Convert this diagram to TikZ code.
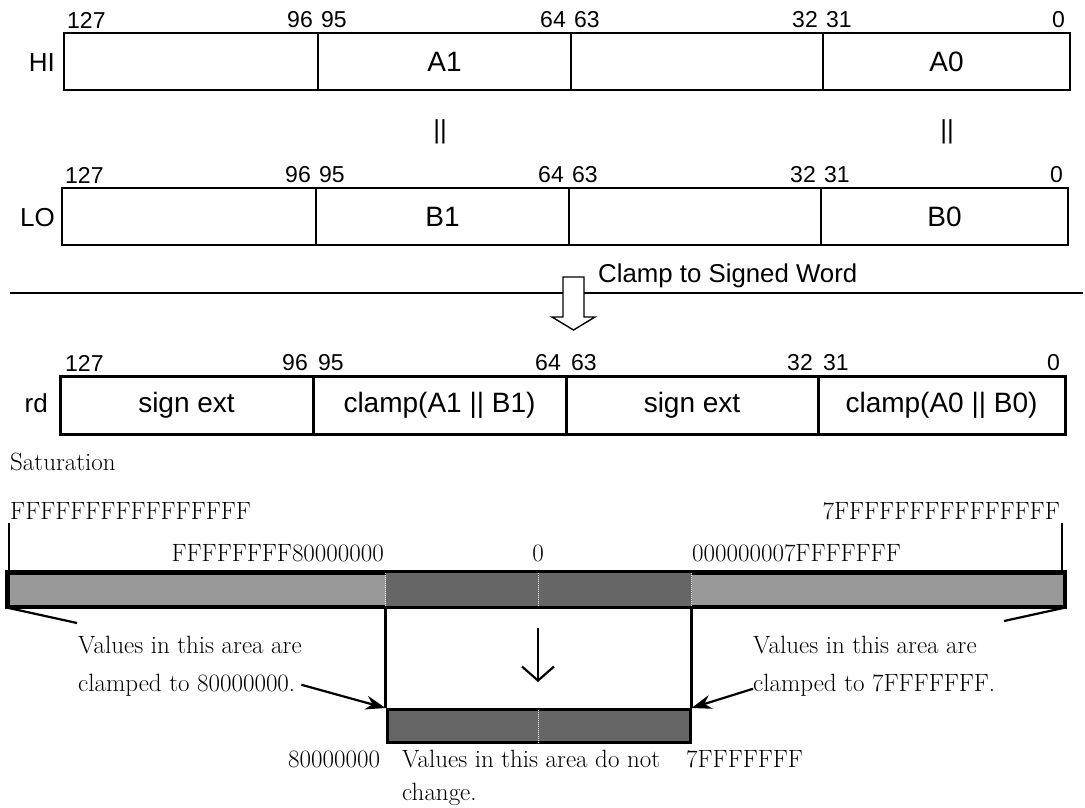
\documentclass[tikz,border=0pt]{standalone}
\usepackage{fontspec}
\newfontfamily\regfont{Liberation Sans}
\usetikzlibrary{arrows.meta}
\definecolor{lightbar}{HTML}{999999}
\definecolor{darkbar}{HTML}{666666}
\tikzset{
  field/.style={draw, line width=1.4pt, minimum height=57pt, inner sep=0pt, font=\regfont\fontsize{28}{32}\selectfont},
  rdfield/.style={field, line width=3pt, minimum height=58pt},
  bitnum/.style={inner sep=0pt, font=\regfont\fontsize{23}{26}\selectfont},
  reglbl/.style={inner sep=0pt, font=\regfont\fontsize{26}{30}\selectfont},
  sertxt/.style={inner sep=0pt, font=\fontsize{25}{29}\selectfont},
  satbar/.style={draw, line width=3pt, minimum height=33pt, inner sep=0pt},
  sepline/.style={white, densely dotted, line width=1pt},
  leader/.style={line width=2.2pt},
}
\begin{document}
\begin{tikzpicture}[x=1pt, y=-1pt, >={Stealth[length=20pt, width=14pt]}]
  \useasboundingbox (0,0) rectangle (1085,807);
  % source register HI
  \node[reglbl, anchor=east] (hilbl) at (55,63) {HI};
  \foreach \xl/\xr/\txt/\nl/\nr [count=\k] in {64/318/{}/127/96, 318/571/A1/95/64, 571/823/{}/63/32, 823/1070/A0/31/0} {
    \node[field, minimum width={(\xr-\xl)*1pt}] (hi\k) at ({(\xl+\xr)/2}, 61.5) {\txt};
    \node[bitnum, anchor=west] (hil\k) at (\xl+3, 20) {\nl};
    \node[bitnum, anchor=east] (hir\k) at (\xr-5, 20) {\nr};
  }
  \node[reglbl] (cat1) at (440,132) {||};
  \node[reglbl] (cat0) at (947,132) {||};
  % source register LO
  \node[reglbl, anchor=east] (lolbl) at (55,218) {LO};
  \foreach \xl/\xr/\txt/\nl/\nr [count=\k] in {62/316/{}/127/96, 316/569/B1/95/64, 569/821/{}/63/32, 821/1068/B0/31/0} {
    \node[field, minimum width={(\xr-\xl)*1pt}] (lo\k) at ({(\xl+\xr)/2}, 216.5) {\txt};
    \node[bitnum, anchor=west] (lol\k) at (\xl+3, 175) {\nl};
    \node[bitnum, anchor=east] (lor\k) at (\xr-5, 175) {\nr};
  }
  % operation
  \draw[line width=1.4pt] (10,293) -- (1083,293);
  \draw[line width=1.4pt, fill=white] (563,277) -- (584,277) -- (584,317) -- (595,317)
    -- (573.5,330) -- (552,317) -- (563,317) -- cycle;
  \node[reglbl, anchor=west, font=\regfont\fontsize{25.8}{29}\selectfont] (oplbl) at (598,276) {Clamp to Signed Word};
  % result register
  \node[reglbl, anchor=east] (rdlbl) at (48,403) {rd};
  \foreach \xl/\xr/\txt/\nl/\nr [count=\k] in {60/313/{sign ext}/127/96, 313/566/{clamp(A1 || B1)}/95/64, 566/818/{sign ext}/63/32, 818/1065/{clamp(A0 || B0)}/31/0} {
    \node[rdfield, minimum width={(\xr-\xl)*1pt}] (rd\k) at ({(\xl+\xr)/2}, 405.5) {\txt};
    \node[bitnum, anchor=west] (rdl\k) at (\xl+5, 363) {\nl};
    \node[bitnum, anchor=east] (rdr\k) at (\xr-5, 363) {\nr};
  }
  % saturation
  \node[sertxt, anchor=base west] (satlbl) at (10,470) {Saturation};
  \node[sertxt, anchor=base west] (minval) at (10,519) {FFFFFFFFFFFFFFFF};
  \node[sertxt, anchor=base east] (maxval) at (1060,519) {7FFFFFFFFFFFFFFF};
  \node[sertxt, anchor=base east] (lowlim) at (384,561) {FFFFFFFF80000000};
  \node[sertxt, anchor=base] (zero) at (538,561) {0};
  \node[sertxt, anchor=base west] (highlim) at (692,561) {000000007FFFFFFF};
  \node[satbar, fill=lightbar, minimum width=1056pt] (fullbar) at (536,589.5) {};
  \node[satbar, fill=darkbar, minimum width=303pt] (lowbar) at (538.5,726) {};
  \fill[darkbar] (lowbar.north west |- fullbar.north) rectangle (lowbar.north east |- fullbar.south);
  \draw[line width=3pt] (fullbar.south west) rectangle (fullbar.north east);
  \foreach \a in {north west, north, north east}
    \draw[sepline] ([yshift=-1.5pt]lowbar.\a |- fullbar.north) -- ([yshift=1.5pt]lowbar.\a |- fullbar.south);
  \draw[sepline] ([yshift=-1.5pt]lowbar.north) -- ([yshift=1.5pt]lowbar.south);
  \coordinate (ltick) at (9,523);
  \coordinate (rtick) at (1062,523);
  \draw[leader] (ltick) -- (ltick |- fullbar.north);
  \draw[leader] (rtick) -- (rtick |- fullbar.north);
  \draw[leader] (lowbar.north west |- fullbar.south) -- (lowbar.north west);
  \draw[leader] (lowbar.north east |- fullbar.south) -- (lowbar.north east);
  \coordinate (dntop) at (538,628);
  \coordinate (dnbot) at (538,682);
  \draw[leader, -{Straight Barb[length=14pt, width=32pt]}] (dntop) -- (dnbot);
  % notes
  \node[sertxt, anchor=base west] (lclamp1) at (78,653) {Values in this area are};
  \node[sertxt, anchor=base west] (lclamp2) at (78,691) {clamped to 80000000.};
  \node[sertxt, anchor=base west] (rclamp1) at (753,653) {Values in this area are};
  \node[sertxt, anchor=base west] (rclamp2) at (753,691) {clamped to 7FFFFFFF.};
  \coordinate (lfoot) at (77,623);
  \coordinate (rfoot) at (1004,621);
  \draw[leader] (fullbar.south west) -- (lfoot);
  \draw[leader] (fullbar.south east) -- (rfoot);
  \draw[leader, ->] ([xshift=6pt]lclamp2.east) -- (lowbar.north west);
  \draw[leader, ->] ([yshift=-4pt]rclamp2.west) -- (lowbar.north east);
  \node[sertxt, anchor=base west] (lowmin) at (288,767) {80000000};
  \node[sertxt, anchor=base west] (keep1) at (402,767) {Values in this area do not};
  \node[sertxt, anchor=base west] (keep2) at (402,800) {change.};
  \node[sertxt, anchor=base west] (lowmax) at (686,767) {7FFFFFFF};
\end{tikzpicture}
\end{document}
